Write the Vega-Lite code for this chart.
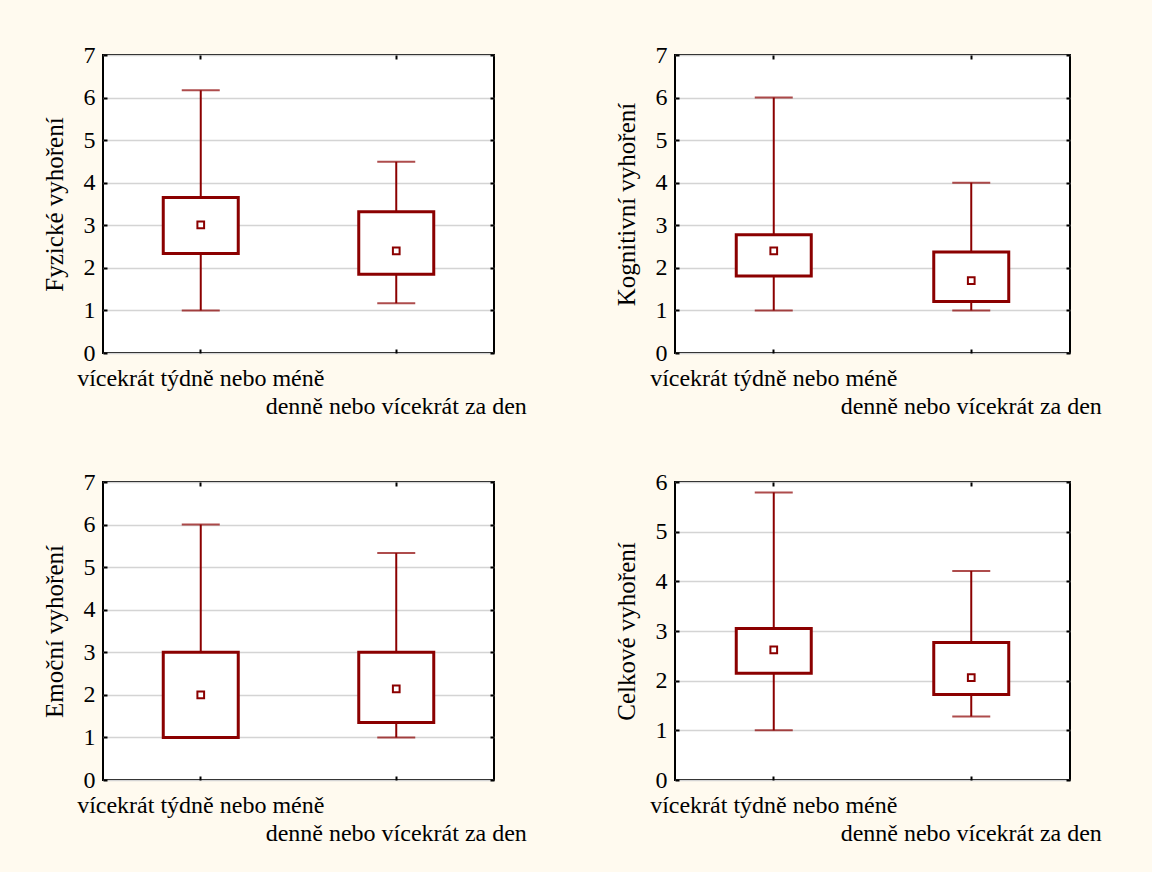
{
  "$schema": "https://vega.github.io/schema/vega-lite/v6.json",
  "background": "#fffaef",
  "padding": {"left": 41, "top": 42, "right": 49, "bottom": 26},
  "datasets": {
    "stats": [
      {"scale": "Fyzické vyhoření", "group": "vícekrát týdně nebo méně", "min": 1.0, "q1": 2.34, "median": 3.01, "q3": 3.65, "max": 6.17},
      {"scale": "Fyzické vyhoření", "group": "denně nebo vícekrát za den", "min": 1.17, "q1": 1.85, "median": 2.4, "q3": 3.32, "max": 4.49},
      {"scale": "Kognitivní vyhoření", "group": "vícekrát týdně nebo méně", "min": 1.0, "q1": 1.81, "median": 2.4, "q3": 2.78, "max": 6.0},
      {"scale": "Kognitivní vyhoření", "group": "denně nebo vícekrát za den", "min": 1.0, "q1": 1.21, "median": 1.7, "q3": 2.37, "max": 4.0},
      {"scale": "Emoční vyhoření", "group": "vícekrát týdně nebo méně", "min": 1.0, "q1": 1.0, "median": 2.0, "q3": 3.0, "max": 6.0},
      {"scale": "Emoční vyhoření", "group": "denně nebo vícekrát za den", "min": 1.0, "q1": 1.35, "median": 2.14, "q3": 3.0, "max": 5.33},
      {"scale": "Celkové vyhoření", "group": "vícekrát týdně nebo méně", "min": 1.0, "q1": 2.15, "median": 2.62, "q3": 3.05, "max": 5.79},
      {"scale": "Celkové vyhoření", "group": "denně nebo vícekrát za den", "min": 1.28, "q1": 1.72, "median": 2.06, "q3": 2.77, "max": 4.21}
    ]
  },
  "columns": 2,
  "spacing": {"row": 129, "column": 181},
  "bounds": "flush",
  "align": "each",
  "resolve": {"scale": {"x": "independent", "y": "independent"}},
  "concat": [
    {
      "width": 391, "height": 298,
      "data": {"name": "stats"},
      "transform": [{"filter": {"field": "scale", "equal": "Fyzické vyhoření"}}],
      "encoding": {"x": {"field": "group", "type": "nominal", "sort": ["vícekrát týdně nebo méně", "denně nebo vícekrát za den"], "scale": {"paddingInner": 0, "paddingOuter": 0}, "axis": null}},
      "layer": [
        {"mark": {"type": "rule", "color": "#8b0000", "strokeWidth": 2},
         "encoding": {
           "x": {"field": "group", "type": "nominal", "sort": ["vícekrát týdně nebo méně", "denně nebo vícekrát za den"], "scale": {"paddingInner": 0, "paddingOuter": 0},
                 "axis": {"orient": "bottom", "title": null, "labelBaseline": "top", "labelPadding": 17, "labelLineHeight": 28, "labelExpr": "datum.value == 'denně nebo vícekrát za den' ? ['', datum.label] : datum.label"}},
           "y": {"field": "min", "type": "quantitative", "scale": {"domain": [0, 7]},
                 "axis": {"orient": "left", "title": "Fyzické vyhoření", "values": [0, 1, 2, 3, 4, 5, 6, 7], "grid": true, "gridColor": "#d4d4d4", "gridWidth": 1.5, "labelPadding": 12, "titlePadding": 16}},
           "y2": {"field": "max"}}},
        {"mark": {"type": "tick", "orient": "horizontal", "color": "#8b0000", "size": 38, "thickness": 2},
         "encoding": {"y": {"field": "min", "type": "quantitative", "axis": null}}},
        {"mark": {"type": "tick", "orient": "horizontal", "color": "#8b0000", "size": 38, "thickness": 2},
         "encoding": {"y": {"field": "max", "type": "quantitative", "axis": null}}},
        {"mark": {"type": "bar", "fill": "white", "stroke": "#8b0000", "strokeWidth": 3, "size": 75},
         "encoding": {"y": {"field": "q1", "type": "quantitative", "axis": null}, "y2": {"field": "q3"}}},
        {"mark": {"type": "point", "shape": "square", "size": 45, "filled": false, "fill": "white", "fillOpacity": 1, "stroke": "#8b0000", "strokeWidth": 2, "opacity": 1},
         "encoding": {"y": {"field": "median", "type": "quantitative", "axis": null}}},
        {"mark": {"type": "point", "opacity": 0},
         "encoding": {
           "x": {"field": "group", "type": "nominal", "sort": ["vícekrát týdně nebo méně", "denně nebo vícekrát za den"], "scale": {"paddingInner": 0, "paddingOuter": 0}, "axis": {"orient": "top", "labels": false, "title": null}},
           "y": {"field": "median", "type": "quantitative", "axis": {"orient": "right", "labels": false, "title": null, "grid": false, "values": [0, 1, 2, 3, 4, 5, 6, 7]}}}}
      ],
      "resolve": {"axis": {"x": "independent", "y": "independent"}}
    },
    {
      "width": 395, "height": 298,
      "data": {"name": "stats"},
      "transform": [{"filter": {"field": "scale", "equal": "Kognitivní vyhoření"}}],
      "encoding": {"x": {"field": "group", "type": "nominal", "sort": ["vícekrát týdně nebo méně", "denně nebo vícekrát za den"], "scale": {"paddingInner": 0, "paddingOuter": 0}, "axis": null}},
      "layer": [
        {"mark": {"type": "rule", "color": "#8b0000", "strokeWidth": 2},
         "encoding": {
           "x": {"field": "group", "type": "nominal", "sort": ["vícekrát týdně nebo méně", "denně nebo vícekrát za den"], "scale": {"paddingInner": 0, "paddingOuter": 0},
                 "axis": {"orient": "bottom", "title": null, "labelBaseline": "top", "labelPadding": 17, "labelLineHeight": 28, "labelExpr": "datum.value == 'denně nebo vícekrát za den' ? ['', datum.label] : datum.label"}},
           "y": {"field": "min", "type": "quantitative", "scale": {"domain": [0, 7]},
                 "axis": {"orient": "left", "title": "Kognitivní vyhoření", "values": [0, 1, 2, 3, 4, 5, 6, 7], "grid": true, "gridColor": "#d4d4d4", "gridWidth": 1.5, "labelPadding": 12, "titlePadding": 16}},
           "y2": {"field": "max"}}},
        {"mark": {"type": "tick", "orient": "horizontal", "color": "#8b0000", "size": 38, "thickness": 2},
         "encoding": {"y": {"field": "min", "type": "quantitative", "axis": null}}},
        {"mark": {"type": "tick", "orient": "horizontal", "color": "#8b0000", "size": 38, "thickness": 2},
         "encoding": {"y": {"field": "max", "type": "quantitative", "axis": null}}},
        {"mark": {"type": "bar", "fill": "white", "stroke": "#8b0000", "strokeWidth": 3, "size": 75},
         "encoding": {"y": {"field": "q1", "type": "quantitative", "axis": null}, "y2": {"field": "q3"}}},
        {"mark": {"type": "point", "shape": "square", "size": 45, "filled": false, "fill": "white", "fillOpacity": 1, "stroke": "#8b0000", "strokeWidth": 2, "opacity": 1},
         "encoding": {"y": {"field": "median", "type": "quantitative", "axis": null}}},
        {"mark": {"type": "point", "opacity": 0},
         "encoding": {
           "x": {"field": "group", "type": "nominal", "sort": ["vícekrát týdně nebo méně", "denně nebo vícekrát za den"], "scale": {"paddingInner": 0, "paddingOuter": 0}, "axis": {"orient": "top", "labels": false, "title": null}},
           "y": {"field": "median", "type": "quantitative", "axis": {"orient": "right", "labels": false, "title": null, "grid": false, "values": [0, 1, 2, 3, 4, 5, 6, 7]}}}}
      ],
      "resolve": {"axis": {"x": "independent", "y": "independent"}}
    },
    {
      "width": 391, "height": 298,
      "data": {"name": "stats"},
      "transform": [{"filter": {"field": "scale", "equal": "Emoční vyhoření"}}],
      "encoding": {"x": {"field": "group", "type": "nominal", "sort": ["vícekrát týdně nebo méně", "denně nebo vícekrát za den"], "scale": {"paddingInner": 0, "paddingOuter": 0}, "axis": null}},
      "layer": [
        {"mark": {"type": "rule", "color": "#8b0000", "strokeWidth": 2},
         "encoding": {
           "x": {"field": "group", "type": "nominal", "sort": ["vícekrát týdně nebo méně", "denně nebo vícekrát za den"], "scale": {"paddingInner": 0, "paddingOuter": 0},
                 "axis": {"orient": "bottom", "title": null, "labelBaseline": "top", "labelPadding": 17, "labelLineHeight": 28, "labelExpr": "datum.value == 'denně nebo vícekrát za den' ? ['', datum.label] : datum.label"}},
           "y": {"field": "min", "type": "quantitative", "scale": {"domain": [0, 7]},
                 "axis": {"orient": "left", "title": "Emoční vyhoření", "values": [0, 1, 2, 3, 4, 5, 6, 7], "grid": true, "gridColor": "#d4d4d4", "gridWidth": 1.5, "labelPadding": 12, "titlePadding": 16}},
           "y2": {"field": "max"}}},
        {"mark": {"type": "tick", "orient": "horizontal", "color": "#8b0000", "size": 38, "thickness": 2},
         "encoding": {"y": {"field": "min", "type": "quantitative", "axis": null}}},
        {"mark": {"type": "tick", "orient": "horizontal", "color": "#8b0000", "size": 38, "thickness": 2},
         "encoding": {"y": {"field": "max", "type": "quantitative", "axis": null}}},
        {"mark": {"type": "bar", "fill": "white", "stroke": "#8b0000", "strokeWidth": 3, "size": 75},
         "encoding": {"y": {"field": "q1", "type": "quantitative", "axis": null}, "y2": {"field": "q3"}}},
        {"mark": {"type": "point", "shape": "square", "size": 45, "filled": false, "fill": "white", "fillOpacity": 1, "stroke": "#8b0000", "strokeWidth": 2, "opacity": 1},
         "encoding": {"y": {"field": "median", "type": "quantitative", "axis": null}}},
        {"mark": {"type": "point", "opacity": 0},
         "encoding": {
           "x": {"field": "group", "type": "nominal", "sort": ["vícekrát týdně nebo méně", "denně nebo vícekrát za den"], "scale": {"paddingInner": 0, "paddingOuter": 0}, "axis": {"orient": "top", "labels": false, "title": null}},
           "y": {"field": "median", "type": "quantitative", "axis": {"orient": "right", "labels": false, "title": null, "grid": false, "values": [0, 1, 2, 3, 4, 5, 6, 7]}}}}
      ],
      "resolve": {"axis": {"x": "independent", "y": "independent"}}
    },
    {
      "width": 395, "height": 298,
      "data": {"name": "stats"},
      "transform": [{"filter": {"field": "scale", "equal": "Celkové vyhoření"}}],
      "encoding": {"x": {"field": "group", "type": "nominal", "sort": ["vícekrát týdně nebo méně", "denně nebo vícekrát za den"], "scale": {"paddingInner": 0, "paddingOuter": 0}, "axis": null}},
      "layer": [
        {"mark": {"type": "rule", "color": "#8b0000", "strokeWidth": 2},
         "encoding": {
           "x": {"field": "group", "type": "nominal", "sort": ["vícekrát týdně nebo méně", "denně nebo vícekrát za den"], "scale": {"paddingInner": 0, "paddingOuter": 0},
                 "axis": {"orient": "bottom", "title": null, "labelBaseline": "top", "labelPadding": 17, "labelLineHeight": 28, "labelExpr": "datum.value == 'denně nebo vícekrát za den' ? ['', datum.label] : datum.label"}},
           "y": {"field": "min", "type": "quantitative", "scale": {"domain": [0, 6]},
                 "axis": {"orient": "left", "title": "Celkové vyhoření", "values": [0, 1, 2, 3, 4, 5, 6], "grid": true, "gridColor": "#d4d4d4", "gridWidth": 1.5, "labelPadding": 12, "titlePadding": 16}},
           "y2": {"field": "max"}}},
        {"mark": {"type": "tick", "orient": "horizontal", "color": "#8b0000", "size": 38, "thickness": 2},
         "encoding": {"y": {"field": "min", "type": "quantitative", "axis": null}}},
        {"mark": {"type": "tick", "orient": "horizontal", "color": "#8b0000", "size": 38, "thickness": 2},
         "encoding": {"y": {"field": "max", "type": "quantitative", "axis": null}}},
        {"mark": {"type": "bar", "fill": "white", "stroke": "#8b0000", "strokeWidth": 3, "size": 75},
         "encoding": {"y": {"field": "q1", "type": "quantitative", "axis": null}, "y2": {"field": "q3"}}},
        {"mark": {"type": "point", "shape": "square", "size": 45, "filled": false, "fill": "white", "fillOpacity": 1, "stroke": "#8b0000", "strokeWidth": 2, "opacity": 1},
         "encoding": {"y": {"field": "median", "type": "quantitative", "axis": null}}},
        {"mark": {"type": "point", "opacity": 0},
         "encoding": {
           "x": {"field": "group", "type": "nominal", "sort": ["vícekrát týdně nebo méně", "denně nebo vícekrát za den"], "scale": {"paddingInner": 0, "paddingOuter": 0}, "axis": {"orient": "top", "labels": false, "title": null}},
           "y": {"field": "median", "type": "quantitative", "axis": {"orient": "right", "labels": false, "title": null, "grid": false, "values": [0, 1, 2, 3, 4, 5, 6]}}}}
      ],
      "resolve": {"axis": {"x": "independent", "y": "independent"}}
    }
  ],
  "config": {
    "font": "Liberation Serif",
    "view": {"stroke": "black", "strokeWidth": 2, "fill": "white"},
    "axis": {
      "domain": false,
      "labelFont": "Liberation Serif", "labelFontSize": 24, "labelColor": "black", "labelLimit": 0,
      "titleFont": "Liberation Serif", "titleFontSize": 25, "titleFontWeight": "normal", "titleColor": "black",
      "tickColor": "black", "tickWidth": 2, "tickSize": -4
    },
    "axisX": {"grid": false, "labelAngle": 0},
    "axisY": {"grid": false}
  }
}
